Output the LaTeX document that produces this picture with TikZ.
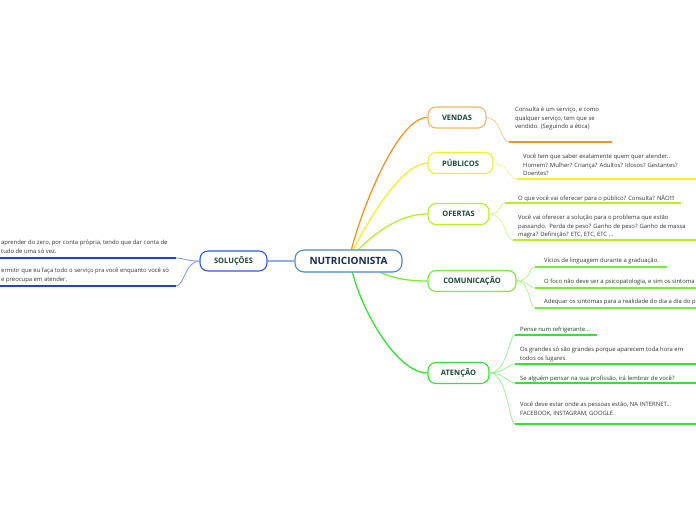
\documentclass[tikz,border=0pt]{standalone}
\usepackage{fontspec}
\setmainfont{Open Sans}
\usetikzlibrary{backgrounds}
\definecolor{tgreen}{HTML}{17493A}
\definecolor{tnavy}{HTML}{1A2A4F}
\definecolor{tdark}{HTML}{333333}
\definecolor{cblue}{HTML}{4A89C8}
\definecolor{sblue}{HTML}{2D5BE3}
\definecolor{sbluel}{HTML}{7A98F0}
\definecolor{sblued}{HTML}{1B45D8}
\definecolor{corange}{HTML}{F7941D}
\definecolor{corangel}{HTML}{FFC97A}
\definecolor{cyellow}{HTML}{F5EE2A}
\definecolor{cyellowl}{HTML}{FBF48E}
\definecolor{cyg}{HTML}{B4F02A}
\definecolor{cygl}{HTML}{D6F88A}
\definecolor{clg}{HTML}{74EE3A}
\definecolor{clgl}{HTML}{B2F68E}
\definecolor{cgr}{HTML}{30E430}
\definecolor{cgrl}{HTML}{98F298}
\tikzset{
  topic/.style={draw, rounded corners=8pt, line width=1.1pt, fill=white, text=tgreen,
    font=\bfseries\fontsize{7.5}{9}\selectfont, minimum height=21pt, inner sep=0pt},
  central/.style={draw=cblue, rounded corners=9pt, line width=1.1pt, fill=white, text=tnavy,
    font=\bfseries\fontsize{10}{12}\selectfont, minimum height=22pt, minimum width=107pt, inner sep=0pt},
  note/.style={anchor=north west, inner sep=0pt, align=left, font=\fontsize{5.9}{8.5}\selectfont, text=tdark},
  branch/.style={line width=1.3pt},
  conn/.style={line width=0.8pt},
  uline/.style={line width=1.4pt}
}
\begin{document}
\begin{tikzpicture}[x=1pt,y=-1pt]
\useasboundingbox (0,0) rectangle (696,520);
\clip (0,0) rectangle (696,520);

\node[central] (nut) at (348.5,261) {NUTRICIONISTA};
\node[topic, draw=corange!70, minimum width=58pt] (ven) at (457,117.5) {VENDAS};
\node[topic, draw=cyellow, minimum width=65pt] (pub) at (460.5,163) {PÚBLICOS};
\node[topic, draw=cyg, minimum width=61pt] (ofe) at (458.5,214) {OFERTAS};
\node[topic, draw=clg, minimum width=88pt] (com) at (472,281) {COMUNICAÇÃO};
\node[topic, draw=cgr, minimum width=61pt] (ate) at (458.5,373) {ATENÇÃO};
\node[topic, draw=sblue, minimum width=67pt, minimum height=20pt] (sol) at (233.5,261) {SOLUÇÕES};

\begin{scope}[on background layer]
\draw[branch, corange] ([xshift=3pt]nut.north) .. controls +(10,-40) and +(-30,0) .. (ven.west);
\draw[branch, cyellow] ([xshift=5pt]nut.north) .. controls +(15,-30) and +(-25,0) .. (pub.west);
\draw[branch, cyg] ([xshift=10pt]nut.north) .. controls +(20,-20) and +(-25,0) .. (ofe.west);
\draw[branch, clg] ([xshift=32pt]nut.south) .. controls +(15,6) and +(-20,0) .. (com.west);
\draw[branch, cgr] ([xshift=4pt]nut.south) .. controls +(10,40) and +(-30,0) .. (ate.west);
\draw[branch, sbluel!80] (nut.west) -- (sol.east);
\end{scope}

% VENDAS
\coordinate (v1a) at (509,142); \coordinate (v1b) at (612,142);
\draw[conn, corangel] (ven.east) .. controls +(14,0) and +(-8,0) .. (v1a);
\draw[uline, corange] (v1a) -- (v1b);
\node[note] (vt1) at (515,107) {Consulta é um serviço, e como\\qualquer serviço, tem que se\\vendido. (Seguindo a ética)};

% PUBLICOS
\coordinate (p1a) at (517,179); \coordinate (p1b) at (696,179);
\draw[conn, cyellowl] (pub.east) .. controls +(14,0) and +(-8,0) .. (p1a);
\draw[uline, cyellow] (p1a) -- (p1b);
\node[note] (pt1) at (523,154) {Você tem que saber exatamente quem quer atender..\\Homem? Mulher? Criança? Adultos? Idosos? Gestantes?\\Doentes?};

% OFERTAS
\coordinate (o1a) at (505,203); \coordinate (o1b) at (681,203);
\coordinate (o2a) at (513,240); \coordinate (o2b) at (696,240);
\draw[conn, cygl] (ofe.east) .. controls +(12,0) and +(-6,0) .. (o1a);
\draw[conn, cygl] (ofe.east) .. controls +(16,0) and +(-8,0) .. (o2a);
\draw[uline, cyg] (o1a) -- (o1b);
\draw[uline, cyg] (o2a) -- (o2b);
\node[note] (ot1) at (518,195) {O que você vai oferecer para o público? Consulta? NÃO!!!};
\node[note] (ot2) at (518,215) {Você vai oferecer a solução para o problema que estão\\passando.\ \ Perda de peso? Ganho de peso? Ganho de massa\\magra? Definição? ETC, ETC, ETC ...};

% COMUNICACAO
\coordinate (c1a) at (535,267); \coordinate (c1b) at (667,267);
\coordinate (c2a) at (535,288); \coordinate (c2b) at (696,288);
\coordinate (c3a) at (535,308); \coordinate (c3b) at (696,308);
\draw[conn, clgl] (com.east) .. controls +(14,0) and +(-6,0) .. (c1a);
\draw[conn, clgl] (com.east) .. controls +(12,0) and +(-6,0) .. (c2a);
\draw[conn, clgl] (com.east) .. controls +(14,0) and +(-6,0) .. (c3a);
\draw[uline, clg] (c1a) -- (c1b);
\draw[uline, clg] (c2a) -- (c2b);
\draw[uline, clg] (c3a) -- (c3b);
\node[note] (ct1) at (544,258) {Vícios de linguagem durante a graduação.};
\node[note] (ct2) at (544,279) {O foco não deve ser a psicopatologia, e sim os sintoma};
\node[note] (ct3) at (544,299) {Adequar os sintomas para a realidade do dia a dia do p};

% ATENCAO
\coordinate (a1a) at (515,335); \coordinate (a1b) at (597,335);
\coordinate (a2a) at (515,364); \coordinate (a2b) at (696,364);
\coordinate (a3a) at (515,383); \coordinate (a3b) at (696,383);
\coordinate (a4a) at (515,424); \coordinate (a4b) at (696,424);
\draw[conn, cgrl] (ate.east) .. controls +(18,0) and +(-6,0) .. (a1a);
\draw[conn, cgrl] (ate.east) .. controls +(14,0) and +(-6,0) .. (a2a);
\draw[conn, cgrl] (ate.east) .. controls +(14,0) and +(-6,0) .. (a3a);
\draw[conn, cgrl] (ate.east) .. controls +(18,0) and +(-6,0) .. (a4a);
\draw[uline, cgr] (a1a) -- (a1b);
\draw[uline, cgr] (a2a) -- (a2b);
\draw[uline, cgr] (a3a) -- (a3b);
\draw[uline, cgr] (a4a) -- (a4b);
\node[note] (at1) at (520,327) {Pense num refrigerante...};
\node[note] (at2) at (520,347) {Os grandes só são grandes porque aparecem toda hora em\\todos os lugares.};
\node[note] (at3) at (520,376) {Se alguém pensar na sua profissão, irá lembrar de você?};
\node[note] (at4) at (520,402) {Você deve estar onde as pessoas estão, NA INTERNET...\\FACEBOOK, INSTAGRAM, GOOGLE.};

% SOLUCOES
\coordinate (s1a) at (176,258); \coordinate (s1b) at (0,258);
\coordinate (s2a) at (176,286); \coordinate (s2b) at (0,286);
\draw[conn, sbluel] (sol.west) .. controls +(-14,0) and +(8,0) .. (s1a);
\draw[conn, sbluel] (sol.west) .. controls +(-14,0) and +(8,0) .. (s2a);
\draw[uline, sblued] (s1a) -- (s1b);
\draw[uline, sblued] (s2a) -- (s2b);
\node[note] (st1) at (1,240) {aprender do zero, por conta própria, tendo que dar conta de\\tudo de uma só vez.};
\node[note] (st2) at (1,268) {ermitir que eu faça todo o serviço pra você enquanto você só\\e preocupa em atender.};
\end{tikzpicture}
\end{document}
